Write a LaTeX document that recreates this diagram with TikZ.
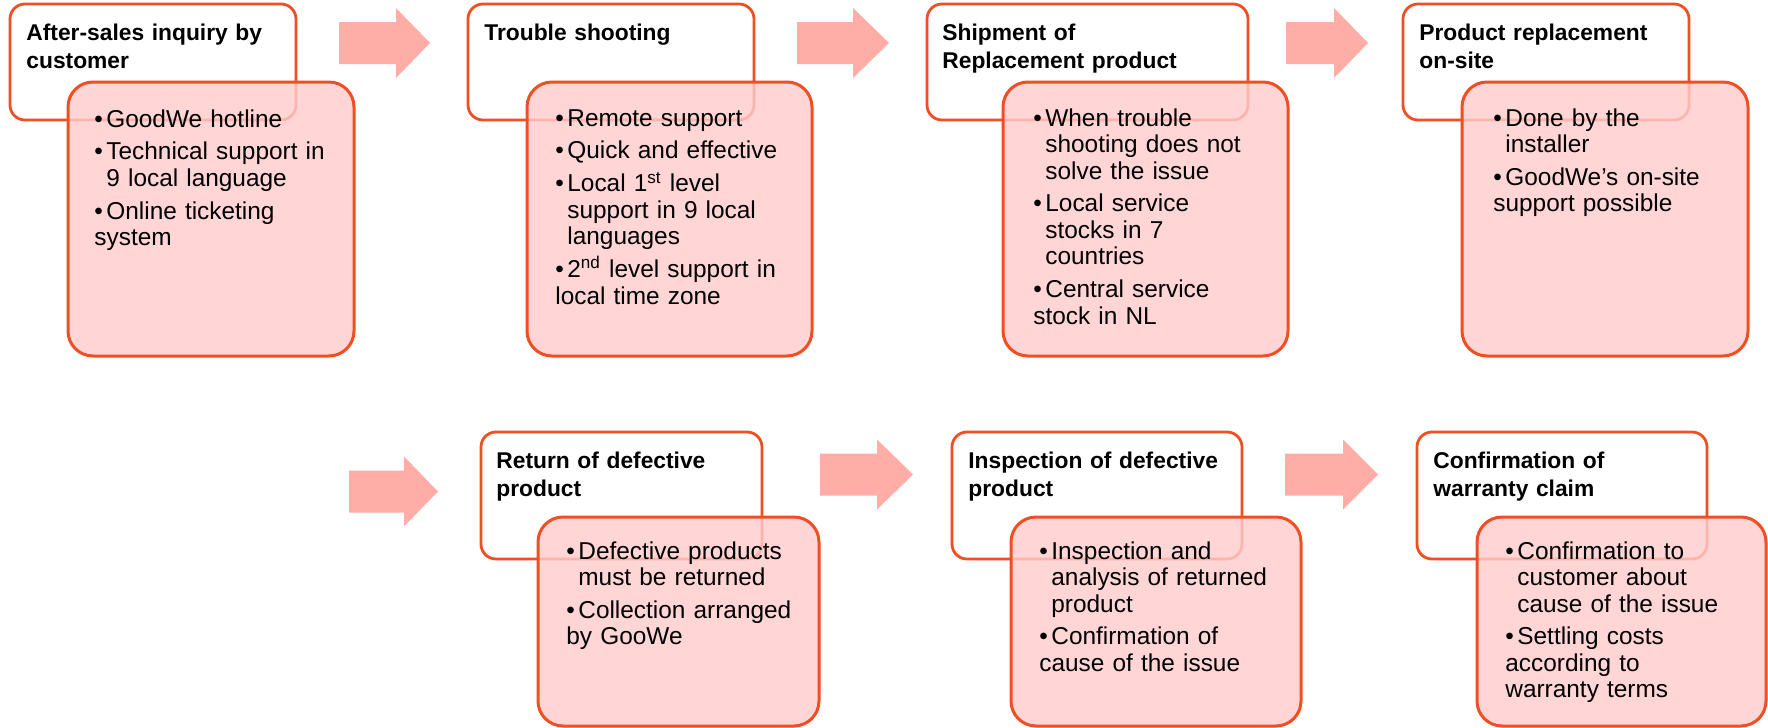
\documentclass[tikz,border=0pt]{standalone}
\usepackage{fontspec}
\setmainfont{Liberation Sans}
\usetikzlibrary{fit}
\definecolor{edge}{RGB}{240,78,35}
\definecolor{pinkfill}{RGB}{255,204,204}
\definecolor{arrowfill}{RGB}{255,173,166}
\newcommand{\fitm}[1]{\noindent\hangindent=6pt\hangafter=1\makebox[6pt][l]{\textbullet}#1}
\newcommand{\itm}[1]{\par\vspace{3.2pt}\fitm{#1}}
\newcommand{\blkarrow}[4]{% xstart, xhead, xtip, ycenter
  \fill[arrowfill] (#1,{#4-21}) -- (#2,{#4-21}) -- (#2,{#4-35}) -- (#3,#4) -- (#2,{#4+35}) -- (#2,{#4+21}) -- (#1,{#4+21}) -- cycle;}
\begin{document}
\begin{tikzpicture}[x=0.5pt,y=-0.5pt,
  hbox/.style={draw=edge, line width=1.4pt, fill=white, rounded corners=7.5pt, inner sep=0pt, outer sep=0pt},
  dbox/.style={draw=edge, line width=1.5pt, fill=pinkfill, fill opacity=0.82, rounded corners=12.5pt, inner sep=0pt, outer sep=0pt},
  htext/.style={anchor=base west, text width=200pt, inner sep=0pt, font=\bfseries\fontsize{11.4}{14}\selectfont},
  btext/.style={anchor=base west, text width=200pt, inner sep=0pt, font=\fontsize{12.2}{13.25}\selectfont}]
\useasboundingbox (0,0) rectangle (1768,728);

% arrows
\blkarrow{339}{396}{430}{43}
\blkarrow{797}{853}{889}{43}
\blkarrow{1286}{1334}{1368}{43}
\blkarrow{349}{404}{438}{491.5}
\blkarrow{820}{877}{913}{474.5}
\blkarrow{1285}{1343}{1378}{474.5}

% module 1
\node[hbox, fit={(10,4) (296,120)}] (h1) {};
\node[htext] (t1) at (26,40) {After-sales inquiry by\newline customer};
\node[dbox, fit={(68,82) (354,356)}] (d1) {};
\node[btext] (b1) at (94,127) {\fitm{GoodWe hotline}\itm{Technical support in\newline 9 local language}\itm{Online ticketing\newline system}};

% module 2
\node[hbox, fit={(468,4) (754,120)}] (h2) {};
\node[htext] (t2) at (484,40) {Trouble shooting};
\node[dbox, fit={(527,82) (812,356)}] (d2) {};
\node[btext] (b2) at (555,126) {\fitm{Remote support}\itm{Quick and effective}\itm{Local 1\textsuperscript{st} level\newline support in 9 local\newline languages}\itm{2\textsuperscript{nd} level support in\newline local time zone}};

% module 3
\node[hbox, fit={(927,4) (1248,120)}] (h3) {};
\node[htext] (t3) at (942,40) {Shipment of\newline Replacement product};
\node[dbox, fit={(1003,82) (1288,356)}] (d3) {};
\node[btext] (b3) at (1033,126) {\fitm{When trouble\newline shooting does not\newline solve the issue}\itm{Local service\newline stocks in 7\newline countries}\itm{Central service\newline stock in NL}};

% module 4
\node[hbox, fit={(1403,4) (1689,120)}] (h4) {};
\node[htext] (t4) at (1419,40) {Product replacement\newline on-site};
\node[dbox, fit={(1462,82) (1748,356)}] (d4) {};
\node[btext] (b4) at (1493,126) {\fitm{Done by the\newline installer}\itm{GoodWe’s on-site\newline support possible}};

% module 5
\node[hbox, fit={(481,432) (762,559)}] (h5) {};
\node[htext] (t5) at (496,468) {Return of defective\newline product};
\node[dbox, fit={(538,517) (819,726)}] (d5) {};
\node[btext] (b5) at (566,559) {\fitm{Defective products\newline must be returned}\itm{Collection arranged\newline by GooWe}};

% module 6
\node[hbox, fit={(952,432) (1242,559)}] (h6) {};
\node[htext] (t6) at (968,468) {Inspection of defective\newline product};
\node[dbox, fit={(1011,517) (1301,726)}] (d6) {};
\node[btext] (b6) at (1039,559) {\fitm{Inspection and\newline analysis of returned\newline product}\itm{Confirmation of\newline cause of the issue}};

% module 7
\node[hbox, fit={(1417,432) (1707,559)}] (h7) {};
\node[htext] (t7) at (1433,468) {Confirmation of\newline warranty claim};
\node[dbox, fit={(1477,517) (1766,726)}] (d7) {};
\node[btext] (b7) at (1505,559) {\fitm{Confirmation to\newline customer about\newline cause of the issue}\itm{Settling costs\newline according to\newline warranty terms}};
\end{tikzpicture}
\end{document}
